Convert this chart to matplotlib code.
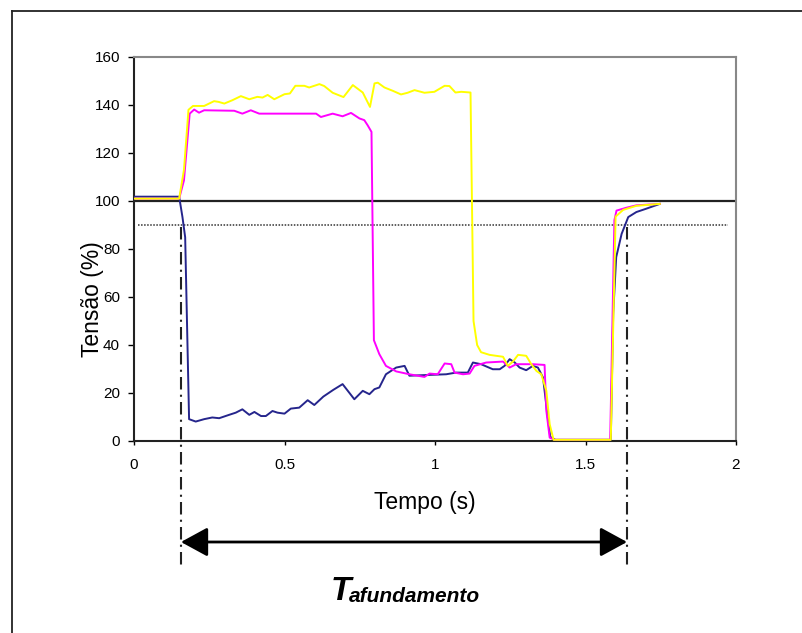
import matplotlib
matplotlib.use("Agg")
import matplotlib.pyplot as plt
from matplotlib.lines import Line2D

plt.rcParams['font.family'] = ['Liberation Sans', 'DejaVu Sans']

# ---- data (time in s, voltage in %) ----
t_yellow = [0, 0.15, 0.166, 0.181, 0.196, 0.233, 0.266, 0.281, 0.30, 0.327, 0.355, 0.383,
            0.41, 0.427, 0.444, 0.466, 0.50, 0.518, 0.536, 0.566, 0.582, 0.616, 0.632, 0.66,
            0.696, 0.727, 0.76, 0.784, 0.799, 0.81, 0.832, 0.86, 0.887, 0.909, 0.932, 0.965,
            0.998, 1.032, 1.048, 1.068, 1.087, 1.118, 1.128, 1.14, 1.153, 1.181, 1.203, 1.226,
            1.242, 1.259, 1.276, 1.303, 1.32, 1.337, 1.353, 1.37, 1.381, 1.394, 1.584, 1.60,
            1.625, 1.669, 1.747]
v_yellow = [101, 101, 113, 138, 139.6, 139.6, 141.6, 141.3, 140.6, 142, 143.7, 142.4,
            143.4, 143.1, 144.2, 142.4, 144.5, 144.8, 148, 148, 147.3, 148.7, 147.9, 145.1,
            143.3, 148.3, 145.2, 139.2, 149, 149.3, 147.3, 145.9, 144.4, 145.1, 146.2, 145.1,
            145.5, 148, 147.9, 145.2, 145.5, 145.2, 50, 40, 37, 35.9, 35.5, 35.1,
            31.3, 33.1, 35.9, 35.5, 32, 29.2, 27.8, 20.9, 7, 0.5, 0.5, 93.5,
            96.3, 98, 98.8]

t_magenta = [0, 0.15, 0.166, 0.185, 0.20, 0.216, 0.233, 0.333, 0.36, 0.388, 0.416, 0.605,
             0.621, 0.66, 0.693, 0.721, 0.749, 0.765, 0.776, 0.789, 0.797, 0.815, 0.837, 0.871,
             0.915, 0.965, 0.982, 1.009, 1.032, 1.054, 1.065, 1.093, 1.115, 1.131, 1.17, 1.226,
             1.248, 1.27, 1.325, 1.364, 1.37, 1.381, 1.398, 1.582, 1.596, 1.603, 1.636, 1.669,
             1.747]
v_magenta = [101, 101, 108.6, 136.4, 138.1, 136.8, 137.8, 137.6, 136.4, 137.8, 136.4, 136.4,
             135, 136.4, 135.3, 136.7, 134.4, 133.7, 131.6, 128.8, 42, 36.2, 31.3, 29,
             27.8, 26.7, 28.1, 27.8, 32.3, 32, 28.5, 27.8, 28.1, 31.3, 32.7, 33.1,
             30.6, 32, 32, 31.7, 12.5, 1.4, 0.5, 0.5, 92, 96, 97.2, 98.2,
             98.8]

t_blue = [0, 0.15, 0.161, 0.17, 0.183, 0.205, 0.233, 0.26, 0.283, 0.316, 0.338, 0.36,
          0.383, 0.40, 0.422, 0.438, 0.46, 0.477, 0.50, 0.521, 0.549, 0.577, 0.599, 0.629,
          0.662, 0.693, 0.732, 0.76, 0.782, 0.799, 0.815, 0.837, 0.871, 0.899, 0.915, 0.993,
          1.037, 1.07, 1.109, 1.126, 1.153, 1.192, 1.215, 1.231, 1.248, 1.265, 1.281, 1.303,
          1.325, 1.342, 1.359, 1.372, 1.383, 1.40, 1.584, 1.592, 1.602, 1.62, 1.642, 1.669,
          1.702, 1.747]
v_blue = [101.8, 101.8, 93.3, 84.9, 9.1, 8.1, 9.1, 9.8, 9.5, 10.9, 11.8, 13.2,
          10.9, 12.1, 10.4, 10.4, 12.5, 11.8, 11.4, 13.5, 13.9, 17, 15, 18.5,
          21.3, 23.7, 17.4, 20.9, 19.5, 21.6, 22.3, 27.8, 30.6, 31.3, 27.2, 27.6,
          27.8, 28.5, 28.5, 32.7, 32, 29.9, 29.9, 31.3, 34.1, 32.7, 30.6, 29.5,
          31.3, 30.6, 26.4, 12.5, 1.7, 0.5, 0.5, 53, 76.6, 86.3, 93.3, 95.4,
          96.8, 98.8]

x_ticks = [0, 0.5, 1, 1.5, 2]
x_tick_labels = ['0', '0.5', '1', '1.5', '2']
y_ticks = [0, 20, 40, 60, 80, 100, 120, 140, 160]
ref_level = 100
limit_level = 90
t_start = 0.156
t_end = 1.638

W, H = 802, 633
fig = plt.figure(figsize=(W / 100, H / 100), dpi=100)

def fx(px):
    return px / W

def fy(py):
    return 1 - py / H

ax = fig.add_axes([fx(134), fy(441), (736 - 134) / W, (441 - 57) / H])

ax.plot(t_blue, v_blue, color='#25258c', lw=1.4, zorder=3)
ax.plot(t_magenta, v_magenta, color='#ff00ff', lw=1.4, zorder=4)
ax.plot(t_yellow, v_yellow, color='#ffff00', lw=1.4, zorder=5)

ax.plot([0, 2], [ref_level, ref_level], color='#222222', lw=1.6, zorder=2)
ax.plot([0.012, 1.973], [limit_level, limit_level], color='#333333', lw=1.1,
        linestyle=(0, (1, 1)), zorder=2)

ax.set_xlim(0, 2)
ax.set_ylim(0, 160)
ax.set_xticks(x_ticks)
ax.set_xticklabels(x_tick_labels)
ax.set_yticks(y_ticks)
ax.tick_params(axis='both', direction='out', length=4, width=1, labelsize=11, colors='black')
ax.tick_params(axis='x', pad=9, length=3)
ax.tick_params(axis='y', pad=6)

for s in ['left', 'bottom']:
    ax.spines[s].set_color('#222222')
    ax.spines[s].set_linewidth(1.5)
for s in ['top', 'right']:
    ax.spines[s].set_color('#888888')
    ax.spines[s].set_linewidth(1.5)

# dash-dot markers and duration arrow below axis
y_bottom = (441 - 566) / 2.4
for tt in (t_start, t_end):
    ax.plot([tt, tt], [89, y_bottom], color='#222222', lw=1.5,
            linestyle=(0, (6, 2.5, 1, 2.5)), clip_on=False, zorder=6)

y_arrow = (441 - 542) / 2.4
ax.annotate('', xy=(t_start, y_arrow), xytext=(t_end, y_arrow),
            arrowprops=dict(arrowstyle='<|-|>,head_length=0.55,head_width=0.3',
                            color='black', lw=2, mutation_scale=30,
                            shrinkA=0, shrinkB=0),
            annotation_clip=False)

fig.text(fx(92), fy(299), 'Tensão (%)', rotation=90, ha='center', va='center', fontsize=16.5)
fig.text(fx(425), fy(502), 'Tempo (s)', ha='center', va='center', fontsize=16.5)

fig.text(fx(331), fy(600), 'T', ha='left', va='baseline', fontsize=24,
         fontweight='bold', fontstyle='italic')
fig.text(fx(349), fy(602), 'afundamento', ha='left', va='baseline', fontsize=15,
         fontweight='bold', fontstyle='italic')

# frame around figure
fig.add_artist(Line2D([fx(12), fx(12)], [fy(11), 0], color='#222222', lw=1.3))
fig.add_artist(Line2D([fx(12), 1], [fy(11), fy(11)], color='#222222', lw=1.3))

fig.savefig('out.png', dpi=100)
